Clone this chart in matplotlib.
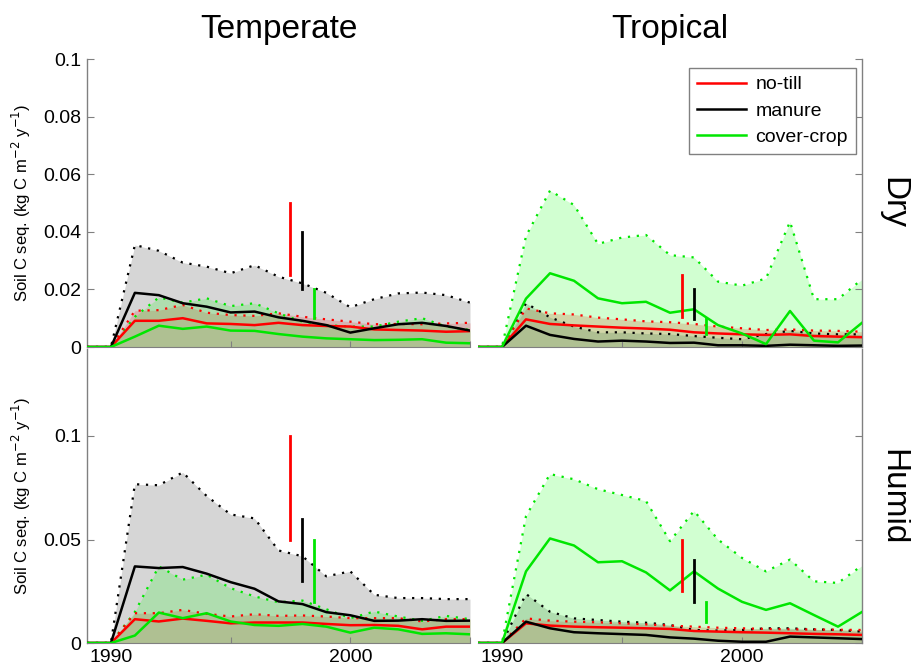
import matplotlib
matplotlib.use("Agg")
import matplotlib.pyplot as plt
from matplotlib.lines import Line2D

plt.rcParams['font.family'] = ['Liberation Sans', 'DejaVu Sans']

years = list(range(1989, 2006))
col_titles = ["Temperate", "Tropical"]
row_titles = ["Dry", "Humid"]
series_names = ["no-till", "manure", "cover-crop"]

# ---- Temperate / Dry ----
td_notill_mean = [0, 0, 0.0091, 0.0091, 0.0100, 0.0082, 0.0080, 0.0076, 0.0084, 0.0076, 0.0073, 0.0071, 0.0061, 0.0059, 0.0057, 0.0053, 0.0055]
td_notill_up   = [0, 0, 0.0126, 0.0128, 0.0146, 0.0119, 0.0111, 0.0108, 0.0117, 0.0105, 0.0096, 0.0088, 0.0079, 0.0080, 0.0079, 0.0082, 0.0084]
td_manure_mean = [0, 0, 0.0188, 0.0180, 0.0152, 0.0140, 0.0120, 0.0123, 0.0103, 0.0091, 0.0076, 0.0050, 0.0065, 0.0079, 0.0084, 0.0073, 0.0057]
td_manure_up   = [0, 0, 0.0354, 0.0334, 0.0293, 0.0279, 0.0256, 0.0284, 0.0244, 0.0221, 0.0188, 0.0138, 0.0166, 0.0186, 0.0189, 0.0180, 0.0154]
td_cover_mean  = [0, 0, 0.0036, 0.0074, 0.0063, 0.0071, 0.0057, 0.0056, 0.0045, 0.0036, 0.0030, 0.0027, 0.0024, 0.0025, 0.0027, 0.0015, 0.0013]
td_cover_up    = [0, 0, 0.0105, 0.0172, 0.0154, 0.0169, 0.0142, 0.0152, 0.0117, 0.0088, 0.0076, 0.0071, 0.0071, 0.0088, 0.0100, 0.0071, 0.0059]

# ---- Tropical / Dry ----
rd_notill_mean = [0, 0, 0.0096, 0.0080, 0.0075, 0.0071, 0.0067, 0.0064, 0.0060, 0.0051, 0.0047, 0.0044, 0.0042, 0.0044, 0.0038, 0.0036, 0.0034]
rd_notill_up   = [0, 0, 0.0134, 0.0117, 0.0113, 0.0102, 0.0096, 0.0089, 0.0086, 0.0080, 0.0071, 0.0065, 0.0059, 0.0061, 0.0057, 0.0056, 0.0053]
rd_manure_mean = [0, 0, 0.0074, 0.0042, 0.0028, 0.0019, 0.0022, 0.0019, 0.0014, 0.0015, 0.0006, 0.0006, 0.0004, 0.0008, 0.0006, 0.0004, 0.0005]
rd_manure_up   = [0, 0, 0.0152, 0.0103, 0.0071, 0.0051, 0.0051, 0.0047, 0.0045, 0.0038, 0.0032, 0.0027, 0.0045, 0.0056, 0.0047, 0.0044, 0.0044]
rd_cover_mean  = [0, 0, 0.0168, 0.0256, 0.0230, 0.0169, 0.0152, 0.0157, 0.0119, 0.0131, 0.0076, 0.0047, 0.0010, 0.0125, 0.0022, 0.0016, 0.0084]
rd_cover_up    = [0, 0, 0.0385, 0.0543, 0.0493, 0.0358, 0.0380, 0.0389, 0.0319, 0.0311, 0.0227, 0.0213, 0.0238, 0.0435, 0.0166, 0.0166, 0.0235]

# ---- Temperate / Humid ----
th_notill_mean = [0, 0, 0.0115, 0.0104, 0.0118, 0.0107, 0.0095, 0.0099, 0.0099, 0.0099, 0.0092, 0.0086, 0.0087, 0.0083, 0.0066, 0.0079, 0.0079]
th_notill_up   = [0, 0, 0.0144, 0.0144, 0.0160, 0.0141, 0.0128, 0.0139, 0.0131, 0.0133, 0.0128, 0.0120, 0.0120, 0.0120, 0.0104, 0.0115, 0.0115]
th_manure_mean = [0, 0, 0.0370, 0.0362, 0.0367, 0.0335, 0.0294, 0.0262, 0.0201, 0.0188, 0.0149, 0.0134, 0.0107, 0.0108, 0.0115, 0.0107, 0.0108]
th_manure_up   = [0, 0, 0.0767, 0.0762, 0.0824, 0.0710, 0.0621, 0.0602, 0.0447, 0.0419, 0.0322, 0.0346, 0.0233, 0.0217, 0.0217, 0.0212, 0.0212]
th_cover_mean  = [0, 0, 0.0036, 0.0147, 0.0120, 0.0144, 0.0104, 0.0087, 0.0083, 0.0092, 0.0079, 0.0050, 0.0074, 0.0066, 0.0044, 0.0047, 0.0042]
th_cover_up    = [0, 0, 0.0150, 0.0370, 0.0306, 0.0330, 0.0265, 0.0225, 0.0197, 0.0205, 0.0163, 0.0120, 0.0152, 0.0128, 0.0107, 0.0131, 0.0115]

# ---- Tropical / Humid ----
rh_notill_mean = [0, 0, 0.0095, 0.0084, 0.0079, 0.0076, 0.0074, 0.0071, 0.0068, 0.0058, 0.0055, 0.0052, 0.0050, 0.0047, 0.0044, 0.0042, 0.0039]
rh_notill_up   = [0, 0, 0.0119, 0.0108, 0.0103, 0.0100, 0.0095, 0.0090, 0.0084, 0.0079, 0.0074, 0.0071, 0.0068, 0.0066, 0.0065, 0.0064, 0.0063]
rh_manure_mean = [0, 0, 0.0103, 0.0071, 0.0052, 0.0047, 0.0043, 0.0039, 0.0027, 0.0021, 0.0011, 0.0006, 0.0006, 0.0031, 0.0027, 0.0023, 0.0019]
rh_manure_up   = [0, 0, 0.0237, 0.0151, 0.0119, 0.0111, 0.0103, 0.0098, 0.0087, 0.0063, 0.0060, 0.0063, 0.0071, 0.0071, 0.0066, 0.0063, 0.0055]
rh_cover_mean  = [0, 0, 0.0346, 0.0505, 0.0471, 0.0390, 0.0395, 0.0341, 0.0254, 0.0346, 0.0263, 0.0199, 0.0160, 0.0192, 0.0135, 0.0079, 0.0150]
rh_cover_up    = [0, 0, 0.0613, 0.0816, 0.0791, 0.0743, 0.0715, 0.0686, 0.0492, 0.0638, 0.0500, 0.0411, 0.0346, 0.0403, 0.0298, 0.0290, 0.0374]

# vertical bars: x position and (low, high) per series [no-till, manure, cover-crop]
bar_x = [1997.5, 1998.0, 1998.5]
td_bars = [(0.025, 0.05), (0.02, 0.04), (0.01, 0.02)]
rd_bars = [(0.0105, 0.025), (0.0098, 0.02), (0.0045, 0.0102)]
th_bars = [(0.05, 0.10), (0.03, 0.06), (0.02, 0.05)]
rh_bars = [(0.025, 0.05), (0.02, 0.04), (0.01, 0.02)]

top_yticks = [0, 0.02, 0.04, 0.06, 0.08, 0.1]
top_ylabels = ["0", "0.02", "0.04", "0.06", "0.08", "0.1"]
bot_yticks = [0, 0.05, 0.1]
bot_ylabels = ["0", "0.05", "0.1"]
xtick_vals = [1990, 1995, 2000, 2005]
xtick_labels = ["1990", "", "2000", ""]

panels = {
    (0, 0): ([td_notill_mean, td_manure_mean, td_cover_mean], [td_notill_up, td_manure_up, td_cover_up], td_bars),
    (0, 1): ([rd_notill_mean, rd_manure_mean, rd_cover_mean], [rd_notill_up, rd_manure_up, rd_cover_up], rd_bars),
    (1, 0): ([th_notill_mean, th_manure_mean, th_cover_mean], [th_notill_up, th_manure_up, th_cover_up], th_bars),
    (1, 1): ([rh_notill_mean, rh_manure_mean, rh_cover_mean], [rh_notill_up, rh_manure_up, rh_cover_up], rh_bars),
}

line_colors = ["#ff0000", "#000000", "#00e600"]
fill_colors = ["#ff0000", "#808080", "#00ff00"]
fill_alpha = [0.2, 0.32, 0.18]
spine_col = "#808080"

W, H = 912, 669
fig = plt.figure(figsize=(W / 100, H / 100), dpi=100)

col_x = [(87, 470), (478, 862)]
row_y = [(59, 347), (349, 643)]
ylims = [(0, 0.1), (0, 0.1 * (643 - 349) / 207)]

for (r, c), (means, ups, bars) in panels.items():
    x0, x1 = col_x[c]
    y0, y1 = row_y[r]
    ax = fig.add_axes([x0 / W, 1 - y1 / H, (x1 - x0) / W, (y1 - y0) / H])
    ax.set_xlim(1989, 2005)
    ax.set_ylim(*ylims[r])
    # fills: no-till first, then manure (gray), then cover-crop
    for i in [0, 1, 2]:
        ax.fill_between(years, 0, ups[i], color=fill_colors[i], alpha=fill_alpha[i], lw=0, zorder=1)
    for i in [1, 2, 0]:
        ax.plot(years, ups[i], color=line_colors[i], lw=1.6, ls=(0, (1, 3)), zorder=2)
    for i in [0, 1, 2]:
        ax.plot(years, means[i], color=line_colors[i], lw=1.8, zorder=3)
    for i in range(3):
        lo, hi = bars[i]
        ax.plot([bar_x[i], bar_x[i]], [lo, hi], color=line_colors[i], lw=2, zorder=4)

    for s in ["top", "left", "right", "bottom"]:
        ax.spines[s].set_visible(False)
    ax.spines["bottom"].set_visible(True)
    ax.spines["bottom"].set_color(spine_col)
    side = "left" if c == 0 else "right"
    ax.spines[side].set_visible(True)
    ax.spines[side].set_color(spine_col)
    ax.spines[side].set_linewidth(1.0)

    ax.set_xticks(xtick_vals)
    if r == 1:
        ax.set_xticklabels(xtick_labels, fontsize=14)
    else:
        ax.set_xticklabels([])
    if r == 0:
        ax.set_yticks(top_yticks)
        labs = top_ylabels
    else:
        ax.set_yticks(bot_yticks)
        labs = bot_ylabels
    if c == 0:
        ax.set_yticklabels(labs, fontsize=14)
        ax.tick_params(axis="y", left=True, right=False, direction="in", length=5, color=spine_col, pad=4)
        ax.set_ylabel("Soil C seq. (kg C m$^{-2}$ y$^{-1}$)", fontsize=12)
        ax.yaxis.set_label_coords((33 - 87) / 383, 0.5)
    else:
        ax.yaxis.tick_right()
        ax.set_yticklabels([])
        ax.tick_params(axis="y", left=False, right=True, direction="in", length=5, color=spine_col)
    ax.tick_params(axis="x", direction="in", length=4, color=spine_col, pad=4)
    ax.set_facecolor("none")

    if r == 0:
        ax.set_title(col_titles[c], fontsize=24, pad=15)
    if r == 0 and c == 1:
        handles = [Line2D([], [], color=line_colors[i], lw=1.8) for i in range(3)]
        leg = ax.legend(handles, series_names, loc="upper right",
                        bbox_to_anchor=(0.984, 0.969), borderaxespad=0,
                        fontsize=14, handlelength=2.5, labelspacing=0.45,
                        handletextpad=0.5, borderpad=0.4, fancybox=False, framealpha=1)
        leg.get_frame().set_edgecolor(spine_col)
        leg.get_frame().set_linewidth(1.0)

fig.text(893 / W, 1 - 203 / H, row_titles[0], rotation=-90, fontsize=24, ha="center", va="center")
fig.text(893 / W, 1 - 497 / H, row_titles[1], rotation=-90, fontsize=24, ha="center", va="center")

fig.savefig("out.png", dpi=100)
